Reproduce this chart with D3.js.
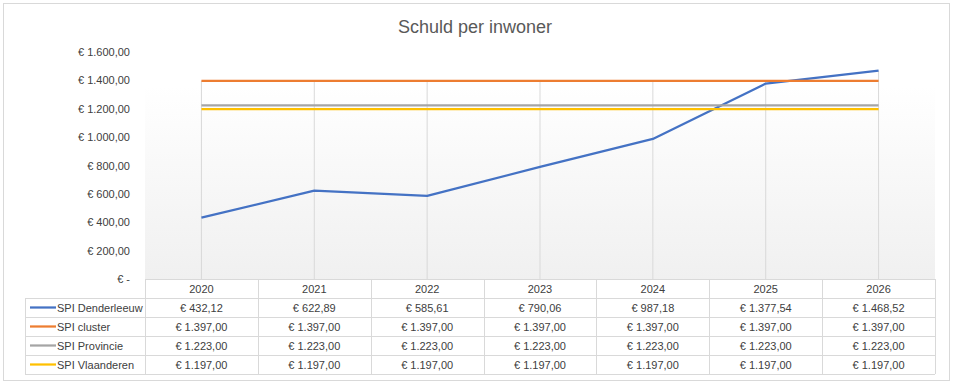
<!DOCTYPE html>
<meta charset="utf-8">
<script src="https://d3js.org/d3.v7.min.js"></script>
<style>
    body { margin: 0; background: #fff; }
    text { font-family: "Liberation Sans", Arial, sans-serif; fill: #404040; }
</style>
<div id="base"></div>
<script>
    // chart data
    var years = ["2020", "2021", "2022", "2023", "2024", "2025", "2026"];
    var denderleeuw = [432.12, 622.89, 585.61, 790.06, 987.18, 1377.54, 1468.52];
    var cluster = [1397, 1397, 1397, 1397, 1397, 1397, 1397];
    var provincie = [1223, 1223, 1223, 1223, 1223, 1223, 1223];
    var vlaanderen = [1197, 1197, 1197, 1197, 1197, 1197, 1197];
    var seriesNames = ["SPI Denderleeuw", "SPI cluster", "SPI Provincie", "SPI Vlaanderen"];
    var seriesColors = ["#4472c4", "#ed7d31", "#a5a5a5", "#ffc000"];
    var yTicks = [0, 200, 400, 600, 800, 1000, 1200, 1400, 1600];

    var series = [denderleeuw, cluster, provincie, vlaanderen].map(function (vals, i) {
        return { name: seriesNames[i], color: seriesColors[i], values: vals };
    });

    var W = 955, H = 385;
    var plotLeft = 145, plotRight = 935, plotTop = 52, plotBottom = 279;
    var rowH = 19, legendLeft = 25;

    var nl = d3.formatLocale({ decimal: ",", thousands: ".", grouping: [3], currency: ["€ ", ""] });
    var fmt = nl.format(",.2f");
    var euro = function (v) { return v === 0 ? "€ -" : "€ " + fmt(v); };

    var svg = d3.select("#base").append("svg")
        .attr("width", W)
        .attr("height", H);

    // outer chart border
    svg.append("rect")
        .attr("x", 3.5).attr("y", 3.5)
        .attr("width", 946).attr("height", 377)
        .attr("fill", "#fff")
        .attr("stroke", "#d9d9d9");

    // plot background gradient
    var grad = svg.append("defs").append("linearGradient")
        .attr("id", "bg").attr("x1", 0).attr("y1", 0).attr("x2", 0).attr("y2", 1);
    grad.append("stop").attr("offset", "0%").attr("stop-color", "#ffffff");
    grad.append("stop").attr("offset", "15%").attr("stop-color", "#ffffff");
    grad.append("stop").attr("offset", "100%").attr("stop-color", "#f0f0f0");

    svg.append("rect")
        .attr("x", plotLeft).attr("y", plotTop)
        .attr("width", plotRight - plotLeft).attr("height", plotBottom - plotTop)
        .attr("fill", "url(#bg)");

    var x = d3.scaleBand().domain(years).range([plotLeft, plotRight]).padding(0);
    var y = d3.scaleLinear().domain([0, 1600]).range([plotBottom, plotTop]);
    var cx = function (yr) { return x(yr) + x.bandwidth() / 2; };

    // title
    svg.append("text")
        .attr("x", 475).attr("y", 33)
        .attr("text-anchor", "middle")
        .style("font-size", "18px")
        .style("fill", "#595959")
        .text("Schuld per inwoner");

    // y axis labels
    svg.append("g").selectAll("text")
        .data(yTicks).enter().append("text")
        .attr("x", 130)
        .attr("y", function (d) { return y(d) + 4; })
        .attr("text-anchor", "end")
        .style("font-size", "11px")
        .text(euro);

    // drop lines from highest value to axis
    svg.append("g").selectAll("line")
        .data(years).enter().append("line")
        .attr("x1", function (d) { return cx(d); })
        .attr("x2", function (d) { return cx(d); })
        .attr("y1", function (d, i) { return y(d3.max(series, function (s) { return s.values[i]; })); })
        .attr("y2", y(0))
        .attr("stroke", "#d9d9d9")
        .attr("stroke-width", 1);

    // series lines
    var line = d3.line()
        .x(function (d, i) { return cx(years[i]); })
        .y(function (d) { return y(d); });

    svg.append("g").selectAll("path")
        .data(series).enter().append("path")
        .attr("d", function (d) { return line(d.values); })
        .attr("fill", "none")
        .attr("stroke", function (d) { return d.color; })
        .attr("stroke-width", 2.25)
        .attr("stroke-linejoin", "round");

    // data table
    var table = svg.append("g");
    var gridColor = "#d9d9d9";

    // header row (years)
    table.selectAll(".yr")
        .data(years).enter().append("text")
        .attr("x", function (d) { return cx(d); })
        .attr("y", plotBottom + rowH / 2 + 4)
        .attr("text-anchor", "middle")
        .style("font-size", "11px")
        .text(function (d) { return d; });

    // horizontal table lines
    var hLines = [0, 1, 2, 3, 4, 5];
    table.selectAll(".hl")
        .data(hLines).enter().append("line")
        .attr("x1", function (d) { return d === 0 ? plotLeft : legendLeft; })
        .attr("x2", plotRight)
        .attr("y1", function (d) { return plotBottom + d * rowH + 0.5; })
        .attr("y2", function (d) { return plotBottom + d * rowH + 0.5; })
        .attr("stroke", gridColor);

    // vertical table lines
    var vEdges = x.domain().map(function (d) { return x(d); }).concat([plotRight]);
    table.selectAll(".vl")
        .data(vEdges).enter().append("line")
        .attr("x1", function (d) { return Math.round(d) + 0.5; })
        .attr("x2", function (d) { return Math.round(d) + 0.5; })
        .attr("y1", plotBottom)
        .attr("y2", plotBottom + 5 * rowH)
        .attr("stroke", gridColor);
    table.append("line")
        .attr("x1", legendLeft + 0.5).attr("x2", legendLeft + 0.5)
        .attr("y1", plotBottom + rowH).attr("y2", plotBottom + 5 * rowH)
        .attr("stroke", gridColor);

    // rows per series
    var rows = table.selectAll(".row")
        .data(series).enter().append("g")
        .attr("transform", function (d, i) { return "translate(0," + (plotBottom + (i + 1) * rowH) + ")"; });

    rows.append("line")
        .attr("x1", 30).attr("x2", 56)
        .attr("y1", rowH / 2).attr("y2", rowH / 2)
        .attr("stroke", function (d) { return d.color; })
        .attr("stroke-width", 2.25);

    rows.append("text")
        .attr("x", 57)
        .attr("y", rowH / 2 + 4)
        .style("font-size", "11px")
        .text(function (d) { return d.name; });

    rows.selectAll(".val")
        .data(function (d) { return d.values; }).enter().append("text")
        .attr("x", function (d, i) { return cx(years[i]); })
        .attr("y", rowH / 2 + 4)
        .attr("text-anchor", "middle")
        .style("font-size", "11px")
        .text(euro);
</script>
